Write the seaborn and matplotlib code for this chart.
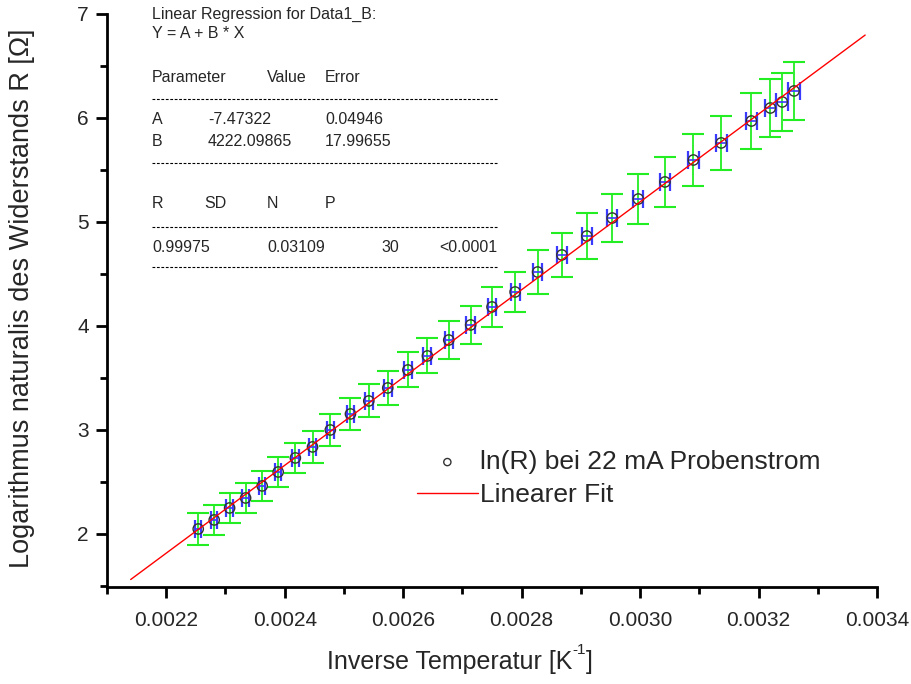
import numpy as np
import pandas as pd
import seaborn as sns
import matplotlib.pyplot as plt
from matplotlib.lines import Line2D
from matplotlib.ticker import MultipleLocator, FormatStrFormatter

# data
inv_T = [0.002254, 0.002281, 0.002307, 0.002334, 0.002362, 0.002389, 0.002418, 0.002447,
         0.002477, 0.002511, 0.002542, 0.002574, 0.002608, 0.002641, 0.002677, 0.002714,
         0.002750, 0.002789, 0.002827, 0.002868, 0.002910, 0.002953, 0.002997, 0.003042,
         0.003090, 0.003137, 0.003188, 0.003220, 0.003240, 0.003260]
ln_R = [2.048, 2.135, 2.250, 2.346, 2.462, 2.596, 2.731, 2.837, 3.000, 3.154,
        3.279, 3.404, 3.577, 3.712, 3.865, 4.010, 4.183, 4.327, 4.519, 4.683,
        4.865, 5.038, 5.221, 5.385, 5.596, 5.760, 5.971, 6.096, 6.154, 6.260]
ln_R_err = [0.151, 0.147, 0.147, 0.146, 0.144, 0.147, 0.147, 0.151, 0.157, 0.155,
            0.159, 0.165, 0.168, 0.168, 0.181, 0.184, 0.189, 0.195, 0.207, 0.213,
            0.220, 0.229, 0.236, 0.240, 0.252, 0.260, 0.271, 0.276, 0.277, 0.282]
inv_T_err = [5.0e-6, 5.2e-6, 5.3e-6, 5.4e-6, 5.5e-6, 5.6e-6, 5.8e-6, 5.9e-6, 6.0e-6, 6.2e-6,
             6.3e-6, 6.5e-6, 6.6e-6, 6.8e-6, 7.0e-6, 7.2e-6, 7.4e-6, 7.6e-6, 7.8e-6, 8.0e-6,
             8.2e-6, 8.4e-6, 8.7e-6, 8.9e-6, 9.1e-6, 9.3e-6, 9.6e-6, 9.8e-6, 10.0e-6, 10.1e-6]

# fit parameters
A = -7.47322
B = 4222.09865
fit_x = [0.00214, 0.00338]

df = pd.DataFrame({'x': inv_T, 'y': ln_R, 'yerr': ln_R_err, 'xerr': inv_T_err})
fit = pd.DataFrame({'x': fit_x, 'y': [A + B * v for v in fit_x]})

#%%
sns.set_style("ticks")
plt.rcParams['font.family'] = ['Liberation Sans', 'DejaVu Sans']

W, H = 912, 684
fig = plt.figure(figsize=(W / 100, H / 100), dpi=100)
ax = fig.add_axes([107 / W, 1 - 587 / H, (877 - 107) / W, (587 - 14) / H])

ax.errorbar(df['x'], df['y'], yerr=df['yerr'], fmt='none', ecolor='#22ee22',
            elinewidth=1.3, capsize=8, capthick=1.5, zorder=2)
ax.errorbar(df['x'], df['y'], xerr=df['xerr'], fmt='none', ecolor='#3a3aff',
            elinewidth=1.2, capsize=6.5, capthick=1.6, zorder=3)
sns.scatterplot(data=df, x='x', y='y', ax=ax, marker='o', s=55, facecolor='none',
                edgecolor='#333333', linewidth=1.0, zorder=4,
                label='ln(R) bei 22 mA Probenstrom')
sns.lineplot(data=fit, x='x', y='y', ax=ax, color='red', linewidth=1.0, zorder=5,
             label='Linearer Fit')

ax.set_xlim(0.0021, 0.0034)
ax.set_ylim(1.49, 7)
ax.xaxis.set_major_locator(MultipleLocator(0.0002))
ax.xaxis.set_minor_locator(MultipleLocator(0.0001))
ax.xaxis.set_major_formatter(FormatStrFormatter('%.4f'))
ax.yaxis.set_major_locator(MultipleLocator(1))
ax.yaxis.set_minor_locator(MultipleLocator(0.5))
ax.tick_params(which='major', length=8, width=2, labelsize=15, color='black')
ax.tick_params(which='minor', length=5, width=2, color='black')
ax.tick_params(axis='x', pad=9)
ax.tick_params(axis='y', pad=5)
for s in ['left', 'bottom']:
    ax.spines[s].set_linewidth(2)
    ax.spines[s].set_color('black')
sns.despine(ax=ax)

ax.set_xlabel('')
ax.set_ylabel('')
xl = fig.text(327 / W, 1 - 662 / H, 'Inverse Temperatur [K', fontsize=18, ha='left', va='center')
sup = ax.annotate('-1', xy=(1, 0.72), xycoords=xl, fontsize=11, ha='left', va='bottom')
ax.annotate(']', xy=(1, 0), xycoords=(sup, xl), fontsize=18, ha='left', va='bottom')
fig.text(22 / W, 1 - 298 / H, 'Logarithmus naturalis des Widerstands R [Ω]',
         fontsize=19.5, ha='center', va='center', rotation=90)

leg = ax.legend(loc='upper left', bbox_to_anchor=((417 - 107) / (877 - 107), 1 - (450 - 14) / (587 - 14)),
                frameon=False, fontsize=19, handlelength=2.3, handletextpad=0.1,
                labelspacing=0.34, borderaxespad=0, borderpad=0, markerscale=0.7)

# regression report text block
fs = 11.5
def t(px, py, s, ha='left'):
    fig.text(px / W, 1 - py / H, s, fontsize=fs, ha=ha, va='center')

def dash(py):
    fig.add_artist(Line2D([152 / W, 497 / W], [1 - py / H, 1 - py / H],
                          color='black', lw=0.8, linestyle=(0, (2.5, 1.5))))

t(152, 14, 'Linear Regression for Data1_B:')
t(152, 33, 'Y = A + B * X')
t(152, 77, 'Parameter')
t(267, 77, 'Value')
t(325, 77, 'Error')
dash(99)
t(152, 119, 'A')
t(208, 119, '-7.47322')
t(325, 119, '0.04946')
t(152, 141, 'B')
t(208, 141, '4222.09865')
t(325, 141, '17.99655')
dash(163)
t(152, 204, 'R')
t(204, 204, 'SD')
t(267, 204, 'N')
t(325, 204, 'P')
dash(227)
t(152, 247, '0.99975')
t(267, 247, '0.03109')
t(399, 247, '30', ha='right')
t(497, 247, '<0.0001', ha='right')
dash(267)

fig.savefig('out.png', dpi=100)
